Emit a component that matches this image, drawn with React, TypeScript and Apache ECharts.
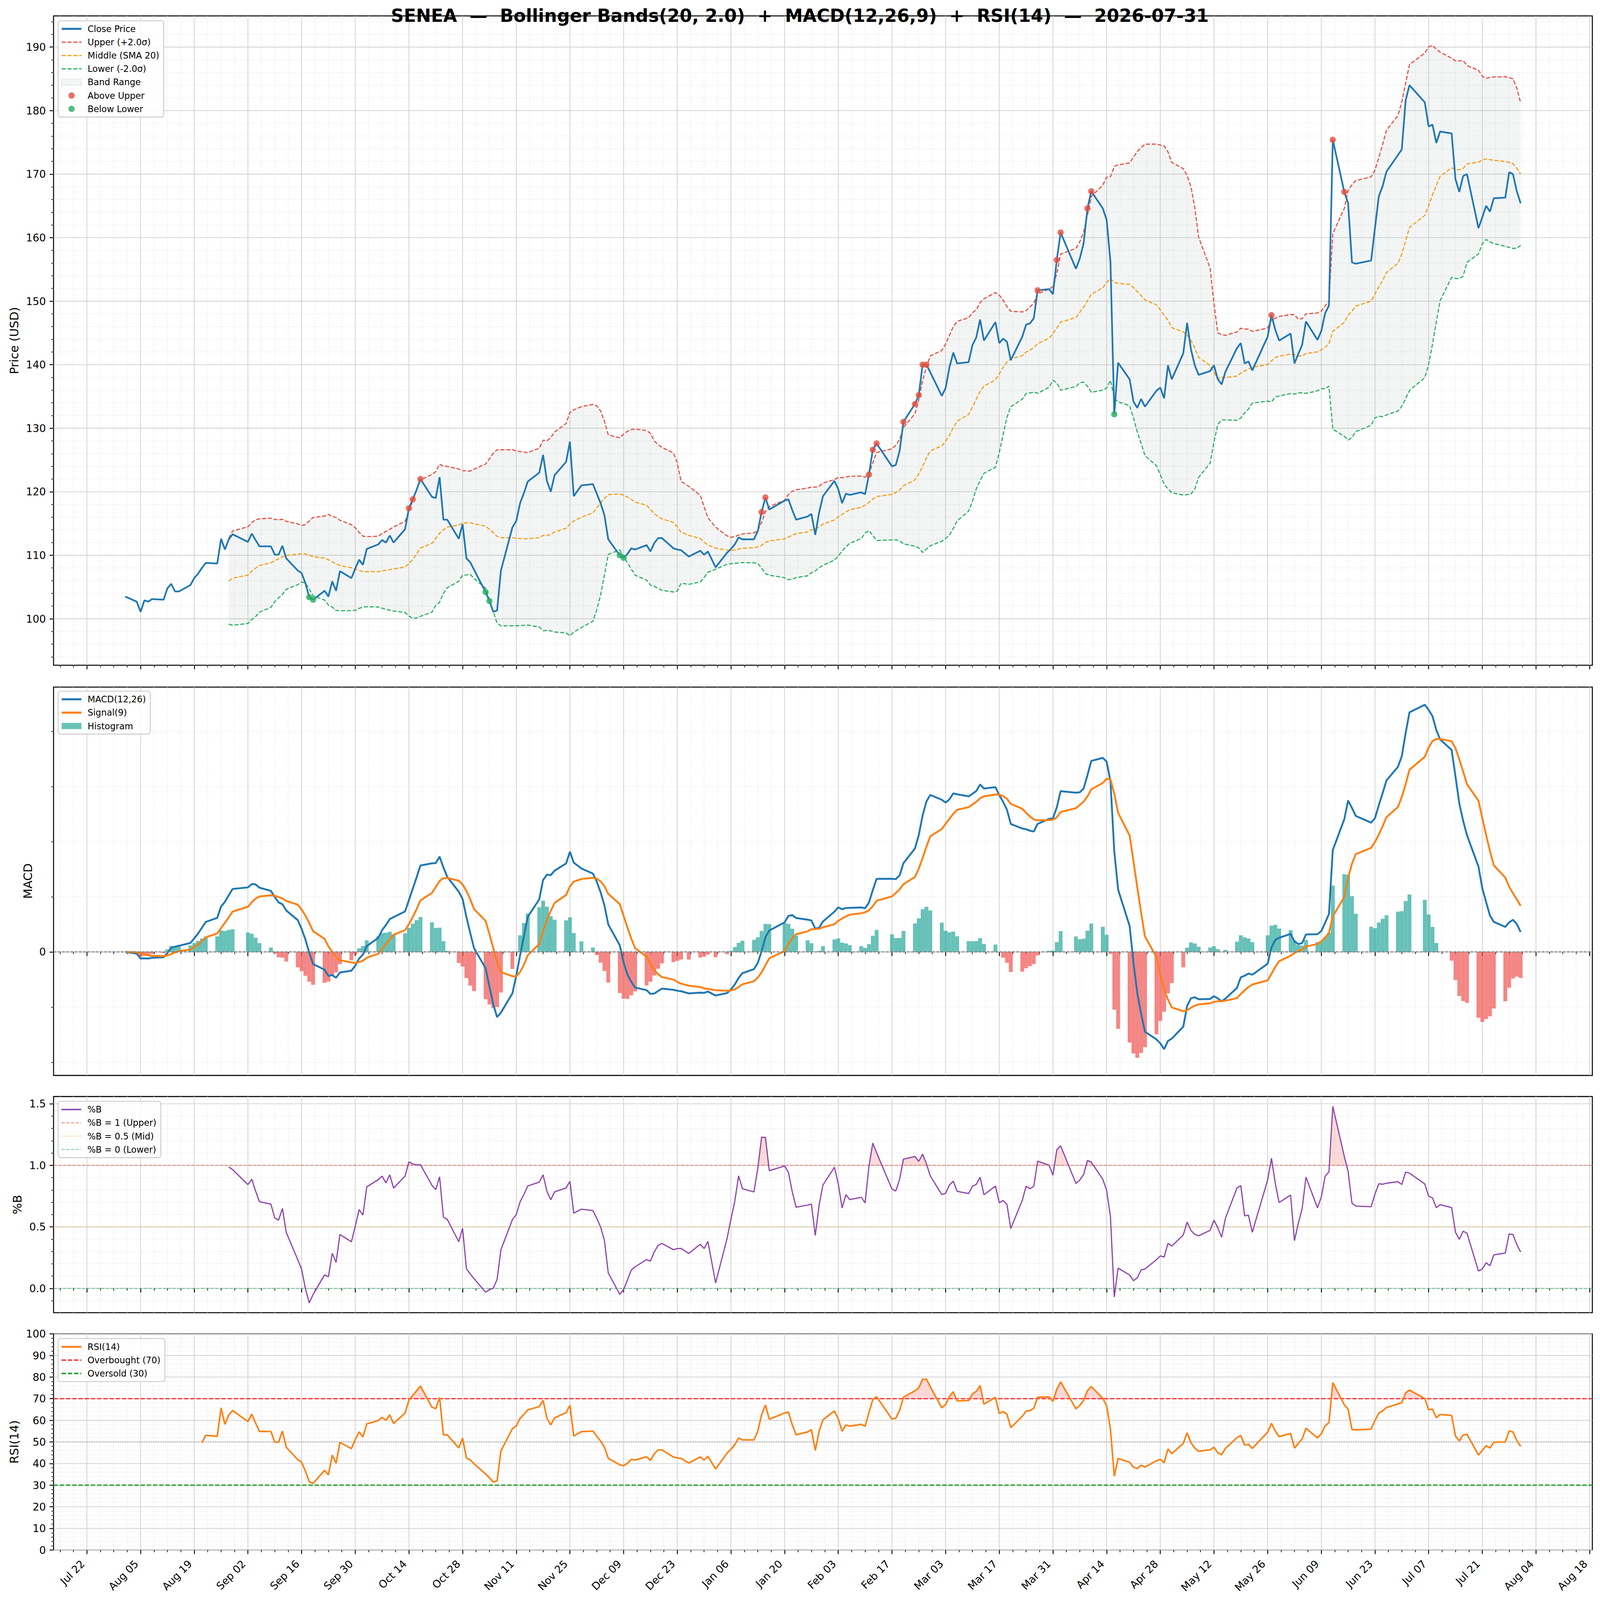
import { useEffect, useRef, useState } from "react";
import * as echarts from "echarts";

const FONT = "DejaVu Sans";
const DAY = 86400000;
const W = 4377;
const H = 4322;

const TITLE =
  "SENEA  —  Bollinger Bands(20, 2.0)  +  MACD(12,26,9)  +  RSI(14)  —  2026-07-31";

// daily closes, one value per NYSE session
const AUG_2025 = [103.5, 102.7, 101.1, 102.9, 102.7, 103.1, 103.0, 104.8, 105.5, 104.3, 104.3, 105.3, 106.4, 107.1, 108.0, 108.8, 108.7, 112.6, 110.9, 112.5, 113.3];
const SEP_2025 = [112.1, 113.4, 112.4, 111.4, 111.4, 110.1, 110.1, 111.5, 109.5, 107.6, 107.2, 105.6, 103.4, 103.0, 104.4, 103.5, 105.9, 104.4, 107.5, 106.4, 107.9];
const OCT_2025 = [109.3, 108.5, 111.0, 111.7, 112.4, 112.0, 113.1, 112.0, 114.1, 117.4, 118.8, 120.3, 122.0, 119.2, 119.0, 122.3, 115.6, 115.6, 112.6, 114.9, 109.5, 108.9, 107.7];
const NOV_2025 = [104.2, 102.8, 101.1, 101.3, 107.6, 114.4, 115.4, 118.2, 119.8, 121.6, 123.0, 125.8, 121.7, 120.0, 122.6, 124.7, 127.9, 119.3, 121.0];
const DEC_2025 = [121.2, 119.7, 118.2, 116.3, 112.5, 110.0, 109.6, 110.2, 111.1, 110.9, 111.6, 110.6, 111.9, 112.7, 112.7, 111.1, 110.9, 110.8, 109.8, 110.7, 110.1, 110.6];
const JAN_2026 = [108.1, 110.4, 111.0, 111.7, 112.8, 112.5, 112.5, 113.8, 116.8, 119.1, 117.2, 118.6, 118.8, 117.1, 115.6, 116.1, 116.5, 113.2, 116.7, 119.3];
const FEB_2026 = [121.7, 120.4, 118.2, 119.7, 119.5, 119.9, 119.6, 122.7, 126.6, 127.6, 124.0, 124.2, 126.4, 131.0, 133.8, 135.2, 140.0, 140.0, 138.8];
const MAR_2026 = [135.1, 136.3, 139.6, 141.9, 140.2, 140.4, 143.1, 144.3, 147.1, 143.8, 146.7, 143.4, 144.1, 143.6, 140.7, 144.4, 146.3, 146.5, 147.3, 151.7, 151.9, 151.1];
const APR_2026 = [156.5, 160.8, 155.1, 156.7, 159.1, 164.6, 167.3, 164.6, 162.8, 156.2, 132.2, 140.3, 137.7, 134.2, 133.2, 134.6, 133.4, 135.9, 136.4, 134.7, 139.9];
const MAY_2026 = [137.7, 141.8, 146.6, 142.4, 139.9, 138.4, 139.0, 139.9, 137.7, 136.9, 138.9, 142.6, 143.4, 140.2, 140.5, 139.1, 144.4, 147.8, 145.5, 143.8];
const JUN_2026 = [144.9, 140.2, 141.7, 143.1, 146.8, 143.9, 145.3, 148.1, 149.3, 175.4, 167.2, 165.4, 156.1, 155.9, 156.4, 161.5, 166.5, 168.1, 170.4, 173.0, 173.9];
const JUL_2026 = [181.6, 184.0, 181.3, 177.5, 177.8, 174.9, 176.7, 176.4, 169.2, 167.2, 169.7, 170.0, 161.5, 163.2, 165.0, 164.1, 166.2, 166.3, 170.3, 170.0, 167.3, 165.4];

const MONTHS: [number, number, number[]][] = [
  [2025, 7, AUG_2025], [2025, 8, SEP_2025], [2025, 9, OCT_2025], [2025, 10, NOV_2025],
  [2025, 11, DEC_2025], [2026, 0, JAN_2026], [2026, 1, FEB_2026], [2026, 2, MAR_2026],
  [2026, 3, APR_2026], [2026, 4, MAY_2026], [2026, 5, JUN_2026], [2026, 6, JUL_2026],
];

const HOLIDAYS = [
  "2025-09-01", "2025-11-27", "2025-12-25", "2026-01-01", "2026-01-19",
  "2026-02-16", "2026-04-03", "2026-05-25", "2026-06-19", "2026-07-03",
];

const ABOVE_UPPER_DATES = [
  "2025-10-14", "2025-10-15", "2025-10-17", "2026-01-14", "2026-01-15",
  "2026-02-11", "2026-02-12", "2026-02-13", "2026-02-20", "2026-02-23",
  "2026-02-24", "2026-02-25", "2026-02-26", "2026-03-27", "2026-04-01",
  "2026-04-02", "2026-04-09", "2026-04-10", "2026-05-27", "2026-06-12",
  "2026-06-15",
];
const BELOW_LOWER_DATES = [
  "2025-09-18", "2025-09-19", "2025-11-03", "2025-11-04",
  "2025-12-08", "2025-12-09", "2026-04-16",
];

const MONTH_ABBR = ["Jan", "Feb", "Mar", "Apr", "May", "Jun", "Jul", "Aug", "Sep", "Oct", "Nov", "Dec"];

const iso = (t: number) => new Date(t).toISOString().slice(0, 10);

const DATES: number[] = [];
const CLOSE: number[] = [];
for (const [y, m, vals] of MONTHS) {
  const days: number[] = [];
  for (let d = 1; d <= 31; d++) {
    const t = Date.UTC(y, m, d);
    const dt = new Date(t);
    if (dt.getUTCMonth() !== m) break;
    const wd = dt.getUTCDay();
    if (wd === 0 || wd === 6) continue;
    if (HOLIDAYS.includes(iso(t))) continue;
    days.push(t);
  }
  vals.forEach((v, i) => {
    DATES.push(days[i]);
    CLOSE.push(v);
  });
}
const N = CLOSE.length;

// ---- indicators ----
const MID: (number | null)[] = [];
const UP: (number | null)[] = [];
const LO: (number | null)[] = [];
for (let i = 0; i < N; i++) {
  if (i < 19) {
    MID.push(null); UP.push(null); LO.push(null);
    continue;
  }
  const w = CLOSE.slice(i - 19, i + 1);
  const m = w.reduce((a, b) => a + b, 0) / 20;
  const sd = Math.sqrt(w.reduce((a, b) => a + (b - m) * (b - m), 0) / 19);
  MID.push(m); UP.push(m + 2 * sd); LO.push(m - 2 * sd);
}
const PCTB = CLOSE.map((c, i) =>
  UP[i] == null ? null : (c - (LO[i] as number)) / ((UP[i] as number) - (LO[i] as number)),
);

function ema(arr: number[], span: number) {
  const a = 2 / (span + 1);
  const out: number[] = [];
  arr.forEach((v, i) => out.push(i === 0 ? v : a * v + (1 - a) * out[i - 1]));
  return out;
}
const E12 = ema(CLOSE, 12);
const E26 = ema(CLOSE, 26);
const MACD = E12.map((v, i) => v - E26[i]);
const SIGNAL = ema(MACD, 9);
const HIST = MACD.map((v, i) => v - SIGNAL[i]);

const RSI: (number | null)[] = [null];
{
  const al = 1 / 14;
  let ag = 0, alo = 0;
  for (let i = 1; i < N; i++) {
    const d = CLOSE[i] - CLOSE[i - 1];
    const g = Math.max(d, 0), l = Math.max(-d, 0);
    if (i === 1) { ag = g; alo = l; } else { ag = al * g + (1 - al) * ag; alo = al * l + (1 - al) * alo; }
    RSI.push(i < 14 ? null : (100 * ag) / (ag + alo));
  }
}

// ---- axes helpers ----
const X_MIN = DATES[0] - 18.7 * DAY;
const X_MAX = DATES[N - 1] + 18.7 * DAY;
const X_ANCHOR = Date.UTC(2025, 6, 22);
const X_MAJOR: number[] = [];
const X_MINOR: number[] = [];
{
  const st = 3.5 * DAY;
  for (let k = Math.ceil((X_MIN - X_ANCHOR) / st); k <= Math.floor((X_MAX - X_ANCHOR) / st); k++) {
    const t = X_ANCHOR + k * st;
    if ((((k % 4) + 4) % 4) === 0) X_MAJOR.push(t); else X_MINOR.push(t);
  }
}

function padExtent(vals: number[], f = 0.05): [number, number] {
  const lo = Math.min(...vals), hi = Math.max(...vals);
  const r = hi - lo;
  return [lo - f * r, hi + f * r];
}
function tickVals(min: number, max: number, major: number, ratio: number) {
  const ms = major / ratio;
  const maj: number[] = [], mnr: number[] = [];
  for (let k = Math.ceil(min / ms - 1e-9); k <= Math.floor(max / ms + 1e-9); k++) {
    const v = Math.round(k * ms * 1e6) / 1e6;
    if ((((k % ratio) + ratio) % ratio) === 0) maj.push(v); else mnr.push(v);
  }
  return { maj, mnr };
}

const nn = (a: (number | null)[]) => a.filter((v) => v != null) as number[];
const PRICE_EXT = padExtent([...CLOSE, ...nn(UP), ...nn(LO)]);
const MACD_EXT = padExtent([...MACD, ...SIGNAL, ...HIST, 0]);
const PCTB_EXT = padExtent(nn(PCTB));
const RSI_EXT: [number, number] = [0, 100];

const PRICE_T = tickVals(PRICE_EXT[0], PRICE_EXT[1], 10, 5);
const MACD_T = tickVals(MACD_EXT[0], MACD_EXT[1], 10, 5);
const PCTB_T = tickVals(PCTB_EXT[0], PCTB_EXT[1], 0.5, 5);
const RSI_T = tickVals(0, 100, 10, 5);

const GRID_LEFT = 146.5;
const GRID_WIDTH = 4209.5;
const PANELS = [
  { top: 43, height: 1754 },
  { top: 1856, height: 1049 },
  { top: 2962, height: 584 },
  { top: 3603, height: 584 },
];

const pad2 = (n: number) => (n < 10 ? "0" + n : "" + n);
const fmtDate = (v: number) => {
  const d = new Date(v);
  return MONTH_ABBR[d.getUTCMonth()] + " " + pad2(d.getUTCDate());
};

function xAxes(g: number) {
  const base = {
    type: "value", gridIndex: g, min: X_MIN, max: X_MAX, position: "bottom",
    axisLine: { show: false }, splitLine: { show: false },
  };
  return [
    {
      ...base,
      axisTick: { show: true, customValues: X_MAJOR, length: 11, lineStyle: { color: "#000", width: 2.4 } },
      axisLabel:
        g === 3
          ? {
              show: true, customValues: X_MAJOR, rotate: 45, margin: 21, padding: [0, 16, 0, 0],
              fontSize: 28.5, color: "#000", fontFamily: FONT, formatter: fmtDate,
            }
          : { show: false, customValues: X_MAJOR },
    },
    {
      ...base,
      axisTick: { show: true, customValues: X_MINOR, length: 6, lineStyle: { color: "#000", width: 1.8 } },
      axisLabel: { show: false, customValues: X_MINOR },
    },
  ];
}

function yAxes(g: number, ext: [number, number], t: { maj: number[]; mnr: number[] }, labels: number[], fmt: (v: number) => string) {
  const base = {
    type: "value", gridIndex: g, min: ext[0], max: ext[1], position: "left",
    axisLine: { show: false }, splitLine: { show: false },
  };
  return [
    {
      ...base,
      axisTick: { show: true, customValues: t.maj, length: 11, lineStyle: { color: "#000", width: 2.4 } },
      axisLabel: { show: true, customValues: labels, fontSize: 28.5, color: "#000", margin: 21, fontFamily: FONT, formatter: fmt },
    },
    {
      ...base,
      axisTick: { show: true, customValues: t.mnr, length: 6, lineStyle: { color: "#000", width: 1.8 } },
      axisLabel: { show: false, customValues: t.mnr },
    },
  ];
}

function gridSeries(g: number, ext: [number, number], t: { maj: number[]; mnr: number[] }) {
  return {
    type: "custom", xAxisIndex: 2 * g, yAxisIndex: 2 * g, silent: true, z: 0, clip: false,
    data: [[X_MIN + DAY, (ext[0] + ext[1]) / 2]],
    renderItem: (params: any, api: any) => {
      const cs = params.coordSys;
      const children: any[] = [];
      const ym = (ext[0] + ext[1]) / 2;
      const vl = (v: number, stroke: string, w: number, dash: number[] | null) => {
        const x = api.coord([v, ym])[0];
        children.push({ type: "line", shape: { x1: x, y1: cs.y, x2: x, y2: cs.y + cs.height }, style: { stroke, lineWidth: w, lineDash: dash } });
      };
      const hl = (v: number, stroke: string, w: number, dash: number[] | null) => {
        const y = api.coord([X_MIN + DAY, v])[1];
        children.push({ type: "line", shape: { x1: cs.x, y1: y, x2: cs.x + cs.width, y2: y }, style: { stroke, lineWidth: w, lineDash: dash } });
      };
      X_MINOR.forEach((v) => vl(v, "#e2e2e2", 1.5, [2.5, 3.5]));
      t.mnr.forEach((v) => hl(v, "#e2e2e2", 1.5, [2.5, 3.5]));
      X_MAJOR.forEach((v) => vl(v, "#d0d0d0", 2, null));
      t.maj.forEach((v) => hl(v, "#d0d0d0", 2, null));
      return { type: "group", children };
    },
  };
}

function pairs(vals: (number | null)[]) {
  const out: [number, number][] = [];
  vals.forEach((v, i) => { if (v != null) out.push([DATES[i], v]); });
  return out;
}

function line(name: string | undefined, g: number, data: any[], color: string, width: number, type: any, z: number) {
  return {
    type: "line", name, xAxisIndex: 2 * g, yAxisIndex: 2 * g, data, symbol: "none", showSymbol: false,
    silent: true, z, lineStyle: { color, width, type }, itemStyle: { color },
  };
}

function runsAbove(vals: (number | null)[], thr: number) {
  const polys: [number, number][][] = [];
  let cur: [number, number][] | null = null;
  let prev = -1;
  for (let i = 0; i < N; i++) {
    const v = vals[i];
    if (v == null) continue;
    const above = v > thr;
    if (prev >= 0) {
      const pv = vals[prev] as number;
      if ((pv > thr) !== above) {
        const cx = DATES[prev] + ((thr - pv) / (v - pv)) * (DATES[i] - DATES[prev]);
        if (cur) { cur.push([cx, thr]); polys.push(cur); cur = null; } else cur = [[cx, thr]];
      }
    }
    if (above) { if (!cur) cur = [[DATES[i], thr]]; cur.push([DATES[i], v]); }
    prev = i;
  }
  if (cur) { cur.push([DATES[prev], thr]); polys.push(cur); }
  return polys;
}

function fillSeries(g: number, polys: [number, number][][], fill: string, name?: string) {
  return {
    type: "custom", name, xAxisIndex: 2 * g, yAxisIndex: 2 * g, silent: true, z: 1, clip: true,
    itemStyle: { color: fill },
    data: [[DATES[20], polys.length ? polys[0][0][1] : 0]],
    renderItem: (_p: any, api: any) => ({
      type: "group",
      children: polys.map((pts) => ({
        type: "polygon",
        shape: { points: pts.map((p) => api.coord(p)) },
        style: { fill, stroke: "none" },
      })),
    }),
  };
}

// legend entry for a line series: keep its own line width, hide the marker ECharts puts on it
const L = (name: string, width: number) => ({ name, itemStyle: { opacity: 0 }, lineStyle: { width } });

function buildOption() {
  const bandPoly: [number, number][] = [];
  for (let i = 19; i < N; i++) bandPoly.push([DATES[i], UP[i] as number]);
  for (let i = N - 1; i >= 19; i--) bandPoly.push([DATES[i], LO[i] as number]);

  const idxOf = (s: string) => DATES.findIndex((t) => iso(t) === s);
  const above = ABOVE_UPPER_DATES.map(idxOf).filter((i) => i >= 0).map((i) => [DATES[i], CLOSE[i]]);
  const below = BELOW_LOWER_DATES.map(idxOf).filter((i) => i >= 0).map((i) => [DATES[i], CLOSE[i]]);

  const TEAL = "rgba(38,166,154,0.7)";
  const RED = "rgba(239,83,80,0.7)";
  const hist = HIST.map((h, i) => ({ value: [DATES[i], h], itemStyle: { color: h >= 0 ? TEAL : RED } }));

  const span = (v: number) => [[X_MIN, v], [X_MAX, v]];

  const legendBase = {
    orient: "vertical", left: 159, itemWidth: 54, itemHeight: 17, itemGap: 8,
    padding: [8, 12, 8, 7], backgroundColor: "rgba(255,255,255,0.8)", borderColor: "#cccccc",
    borderWidth: 2.5, borderRadius: 6, selectedMode: false, z: 20,
    textStyle: { fontSize: 24, lineHeight: 28, color: "#000", fontFamily: FONT, padding: [0, 0, 0, 12] },
  };

  const ylab = (text: string, x: number, y: number) => ({
    type: "text", x, y, rotation: Math.PI / 2, z: 50,
    style: {
      text, fontSize: 32, fontFamily: FONT, fill: "#000",
      align: "center", verticalAlign: "middle", textAlign: "center", textVerticalAlign: "middle",
    },
  });

  return {
    animation: false,
    backgroundColor: "#ffffff",
    textStyle: { fontFamily: FONT },
    grid: PANELS.map((p) => ({
      left: GRID_LEFT, width: GRID_WIDTH, top: p.top, height: p.height,
      show: true, borderColor: "#000", borderWidth: 2.7, backgroundColor: "transparent",
    })),
    xAxis: [...xAxes(0), ...xAxes(1), ...xAxes(2), ...xAxes(3)],
    yAxis: [
      ...yAxes(0, PRICE_EXT, PRICE_T, PRICE_T.maj, (v) => String(Math.round(v))),
      ...yAxes(1, MACD_EXT, MACD_T, [0], () => "0"),
      ...yAxes(2, PCTB_EXT, PCTB_T, PCTB_T.maj, (v) => v.toFixed(1)),
      ...yAxes(3, RSI_EXT, RSI_T, RSI_T.maj, (v) => String(Math.round(v))),
    ],
    legend: [
      {
        ...legendBase, top: 56,
        data: [
          L("Close Price", 5.5), L("Upper (+2.0σ)", 3.2), L("Middle (SMA 20)", 3.2), L("Lower (-2.0σ)", 3.2),
          { name: "Band Range", icon: "rect", itemStyle: { color: "#f3f5f5", borderColor: "#dde2e2", borderWidth: 1.5 } },
          { name: "Above Upper", icon: "circle" },
          { name: "Below Lower", icon: "circle" },
        ],
      },
      { ...legendBase, top: 1867, data: [L("MACD(12,26)", 5.5), L("Signal(9)", 5.5), { name: "Histogram", icon: "rect" }] },
      {
        ...legendBase, top: 2975,
        data: [L("%B", 4), L("%B = 1 (Upper)", 2.6), L("%B = 0.5 (Mid)", 2.6), L("%B = 0 (Lower)", 2.6)],
      },
      { ...legendBase, top: 3616, data: [L("RSI(14)", 5), L("Overbought (70)", 4), L("Oversold (30)", 4)] },
    ],
    graphic: [
      {
        type: "text", x: 2188, y: 42, z: 100,
        style: {
          text: TITLE, fontSize: 49, fontWeight: "bold", fontFamily: FONT, fill: "#000",
          align: "center", verticalAlign: "middle", textAlign: "center", textVerticalAlign: "middle",
        },
      },
      ylab("Price (USD)", 39, 920),
      ylab("MACD", 77, 2380),
      ylab("%B", 47.5, 3254),
      ylab("RSI(14)", 39.5, 3895),
    ],
    series: [
      gridSeries(0, PRICE_EXT, PRICE_T),
      gridSeries(1, MACD_EXT, MACD_T),
      gridSeries(2, PCTB_EXT, PCTB_T),
      gridSeries(3, RSI_EXT, RSI_T),

      // price panel
      {
        ...fillSeries(0, [bandPoly], "rgba(149,165,166,0.11)", "Band Range"),
        itemStyle: { color: "#f3f5f5" },
      },
      line("Upper (+2.0σ)", 0, pairs(UP), "#e74c3c", 3, [11, 5], 2),
      line("Middle (SMA 20)", 0, pairs(MID), "#f39c12", 3, [11, 5], 2),
      line("Lower (-2.0σ)", 0, pairs(LO), "#27ae60", 3, [11, 5], 2),
      line("Close Price", 0, pairs(CLOSE), "#1f77b4", 4.6, "solid", 4),
      {
        type: "scatter", name: "Above Upper", xAxisIndex: 0, yAxisIndex: 0, data: above,
        symbol: "circle", symbolSize: 17, itemStyle: { color: "#e74c3c" }, z: 5, silent: true,
      },
      {
        type: "scatter", name: "Below Lower", xAxisIndex: 0, yAxisIndex: 0, data: below,
        symbol: "circle", symbolSize: 17, itemStyle: { color: "#27ae60" }, z: 5, silent: true,
      },

      // MACD panel
      line(undefined, 1, span(0), "#808080", 2.8, [8, 3.5], 4),
      {
        type: "bar", name: "Histogram", xAxisIndex: 2, yAxisIndex: 2, data: hist,
        barWidth: 10.5, itemStyle: { color: TEAL }, z: 2, silent: true,
      },
      line("MACD(12,26)", 1, pairs(MACD), "#1f77b4", 5, "solid", 3),
      line("Signal(9)", 1, pairs(SIGNAL), "#ff7f0e", 5, "solid", 3),

      // %B panel
      fillSeries(2, runsAbove(PCTB, 1), "rgba(231,76,60,0.2)"),
      line("%B = 1 (Upper)", 2, span(1), "rgba(231,76,60,0.6)", 2.4, [9, 4], 2),
      line("%B = 0.5 (Mid)", 2, span(0.5), "rgba(243,156,18,0.6)", 2.4, [2.5, 4], 2),
      line("%B = 0 (Lower)", 2, span(0), "rgba(39,174,96,0.6)", 2.4, [9, 4], 2),
      line("%B", 2, pairs(PCTB), "#8e44ad", 3.2, "solid", 3),

      // RSI panel
      fillSeries(3, runsAbove(RSI, 70), "rgba(255,0,0,0.15)"),
      line(undefined, 3, span(50), "#999999", 2.4, [2.5, 4], 2),
      line("Overbought (70)", 3, span(70), "#ff3333", 3.5, [12, 5], 2),
      line("Oversold (30)", 3, span(30), "#2ca02c", 3.5, [12, 5], 2),
      line("RSI(14)", 3, pairs(RSI), "#ff7f0e", 4.2, "solid", 3),
    ],
  };
}

export default function App() {
  const ref = useRef<HTMLDivElement>(null);
  const [vp, setVp] = useState({ w: window.innerWidth || W, h: window.innerHeight || H });

  useEffect(() => {
    const onResize = () => setVp({ w: window.innerWidth || W, h: window.innerHeight || H });
    window.addEventListener("resize", onResize);
    return () => window.removeEventListener("resize", onResize);
  }, []);

  useEffect(() => {
    if (!ref.current) return;
    const chart = echarts.init(ref.current, undefined, { renderer: "svg", width: W, height: H });
    chart.setOption(buildOption() as any);
    return () => chart.dispose();
  }, []);

  const sx = vp.w / W;
  const sy = vp.h / H;

  return (
    <div style={{ position: "fixed", left: 0, top: 0, width: "100vw", height: "100vh", overflow: "hidden", background: "#fff" }}>
      <div
        ref={ref}
        style={{ width: W, height: H, transform: `scale(${sx}, ${sy})`, transformOrigin: "0 0" }}
      />
    </div>
  );
}
